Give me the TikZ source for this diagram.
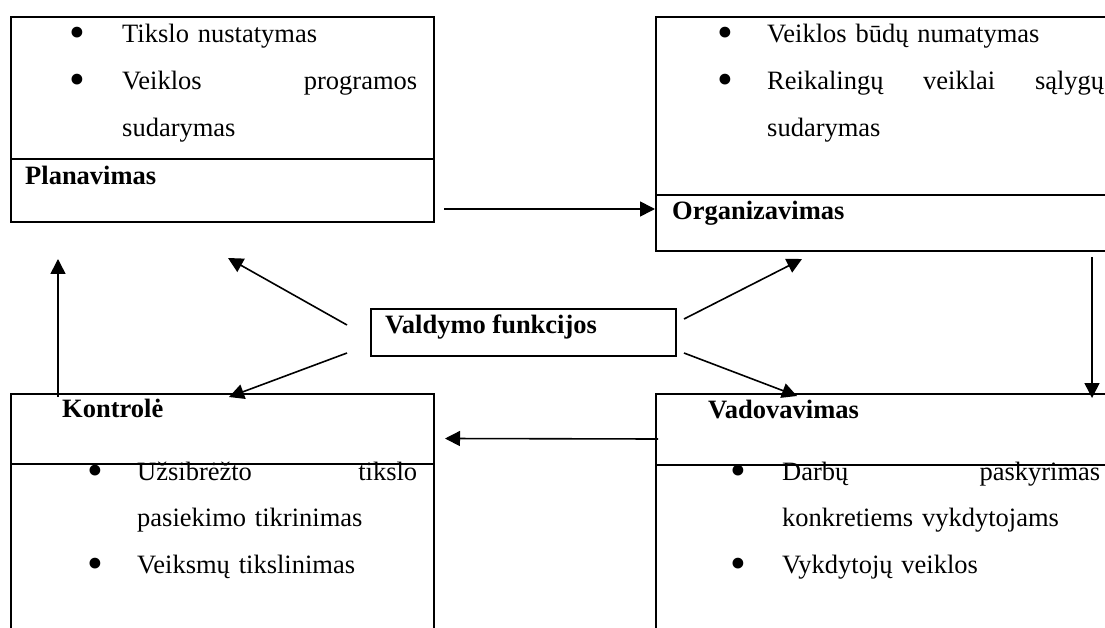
\documentclass[tikz,border=0pt]{standalone}
\usepackage{fontspec}
\setmainfont{Liberation Serif}
\usetikzlibrary{arrows.meta, positioning, calc}
\newcommand{\bul}[1][45pt]{\leavevmode\llap{\makebox[0pt]{\raisebox{-5pt}{\scalebox{1.7}{\textbullet}}}\hspace{#1}}}

\begin{document}
\begin{tikzpicture}[x=1pt, y=-1pt,
    box/.style={draw, line width=2pt, inner sep=0pt, anchor=north west},
    head/.style={anchor=base west, inner sep=0pt,
                 font={\fontsize{26.5}{46.7}\selectfont\bfseries}},
    items/.style={anchor=base west, inner sep=0pt, align=left,
                  font={\fontsize{26.5}{46.7}\selectfont}},
    arr/.style={-{Triangle[length=15pt, width=15pt]}, line width=1.6pt},
  ]
    \clip (0,0) rectangle (1105,628);
    \fill[white] (0,0) rectangle (1105,628);

    \node[box, minimum width=423pt, minimum height=142pt] (plan-items) at (10,16) {};
    \node[box, minimum width=423pt, minimum height=63pt] (plan) at (10,158) {};
    \node[box, minimum width=872pt, minimum height=178pt] (org-items) at (655,16) {};
    \node[box, minimum width=872pt, minimum height=56pt] (org) at (655,194) {};
    \node[box, minimum width=423pt, minimum height=70pt] (kontr) at (10,393) {};
    \node[box, minimum width=423pt, minimum height=200pt] (kontr-items) at (10,463) {};
    \node[box, minimum width=872pt, minimum height=71pt] (vad) at (655,393) {};
    \node[box, minimum width=872pt, minimum height=200pt] (vad-items) at (655,464) {};
    \node[box, minimum width=305pt, minimum height=47pt] (vf) at (370,308) {};

    \node[head] (plan-lbl) at ([shift={(15,27)}]plan.north west) {Planavimas};
    \node[head] (org-lbl) at ([shift={(17,26)}]org.north west) {Organizavimas};
    \node[head] (kontr-lbl) at ([shift={(52,24)}]kontr.north west) {Kontrolė};
    \node[head] (vad-lbl) at ([shift={(53,25)}]vad.north west) {Vadovavimas};
    \node[head] (vf-lbl) at ([shift={(15,25)}]vf.north west) {Valdymo funkcijos};

    \node[items, text width=295pt] (plan-list) at ([shift={(112,27)}]plan-items.north west)
      {\bul Tikslo nustatymas\\ \bul Veiklos\hfill programos\\ sudarymas};
    \node[items, text width=337pt] (org-list) at ([shift={(112,27)}]org-items.north west)
      {\bul[42pt]Veiklos būdų numatymas\\ \bul[42pt]Reikalingų\hfill veiklai\hfill sąlygų\\ sudarymas};
    \node[items, text width=280pt] (kontr-list) at ([shift={(127,17)}]kontr-items.north west)
      {\bul[42pt]Užsibrėžto\hfill tikslo\\ pasiekimo tikrinimas\\ \bul[42pt]Veiksmų tikslinimas};
    \node[items, text width=318pt] (vad-list) at ([shift={(127,16)}]vad-items.north west)
      {\bul[44pt]Darbų\hfill paskyrimas\\ konkretiems vykdytojams\\ \bul[44pt]Vykdytojų veiklos};

    \draw[arr] ([shift={(9,18.5)}]plan.east) -- ([shift={(0,-14)}]org.west);
    \draw[arr] ([yshift=-5pt]org.south) -- ([yshift=-5pt]vad.north);
    \draw[arr] ([shift={(3,9.5)}]vad.west) -- ([shift={(10,9.5)}]kontr.east);
    \draw[arr] ([shift={(48,4)}]kontr.north west) -- ([shift={(48,36)}]plan.south west);
    \draw[arr] ([shift={(-23,-7.5)}]vf.west) -- ([shift={(5.5,35)}]plan.south);
    \draw[arr] ([shift={(-23,20.5)}]vf.west) -- ([shift={(6.5,4)}]kontr.north);
    \draw[arr] ([shift={(7,-13.5)}]vf.east) -- ([shift={(147,7)}]org.south west);
    \draw[arr] ([shift={(7,20.5)}]vf.east) -- ([shift={(142,3)}]vad.north west);
  \end{tikzpicture}
\end{document}
